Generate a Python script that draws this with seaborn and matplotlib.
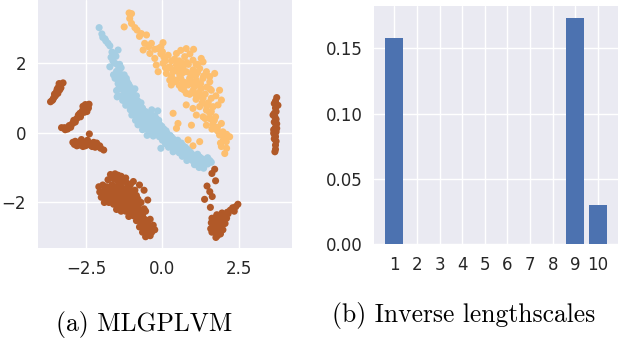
import numpy as np
import pandas as pd
import matplotlib
matplotlib.use("Agg")
import matplotlib.pyplot as plt
import seaborn as sns

# ---------------- data ----------------
brown_x = [-3.38, -3.33, -3.40, -3.36, -3.45, -3.42, -3.50, -3.55, -3.66, -3.32, -3.47, -3.58, -3.25,
           -3.44, -3.36, -3.53, -3.60,
           -2.40, -2.45, -2.52, -2.48, -2.58, -2.62, -2.55, -2.70, -2.68, -2.80, -2.85, -2.95, -3.00, -3.10,
           -3.20, -3.30, -2.90, -2.42, -2.50, -2.60, -2.75,
           -2.44, -2.56, -2.64, -2.75, -2.92, -3.05, -3.18, -2.47,
           -2.93, -2.85, -2.78, -2.70, -2.62, -2.55, -2.48, -2.40, -2.32, -2.25, -2.18, -2.10, -2.02, -1.92,
           -2.39, -2.80, -2.60, -2.30, -2.45, -2.65,
           -2.88, -2.74, -2.52, -2.36, -2.20, -2.05, -2.15,
           -1.70, -1.55, -1.45, -1.35, -1.78, -1.60, -1.48, -1.30, -1.15, -1.05, -0.75, -2.08, -1.95, -1.82,
           -1.65, -1.50, -1.35, -1.20, -1.05, -0.90, -0.60, -2.05, -1.90, -1.75, -1.60, -1.45, -1.30, -1.15,
           -1.00, -0.85, -2.00, -1.85, -1.70, -1.55, -1.40, -1.25, -1.10, -0.95, -0.48, -1.90, -1.60, -1.45,
           -1.30, -1.15, -1.00, -0.85, -0.70, -1.50, -1.35, -1.20, -1.05, -0.90, -0.75, -0.60, -1.10, -0.95,
           -0.80, -0.65, -0.85, -0.70, -0.55, -0.40, -0.75, -0.60, -0.45, -0.30, -0.65, -0.50, -0.35, -0.25,
           -0.55, -0.40, -1.75, -1.40, -1.20, -0.95, -0.80,
           -1.62, -1.40, -1.25, -1.88, -1.72, -1.55, -1.40, -1.25, -1.10, -0.95, -1.95, -1.80, -1.65, -1.50,
           -1.35, -1.20, -1.05, -0.90, -1.75, -1.50, -1.35, -1.20, -1.05, -0.90, -1.40, -1.25, -1.10, -0.95,
           -0.80, -1.00, -0.85, -0.70, -0.55, -0.78, -0.62, -0.48, -0.65, -0.52, -0.38, -0.45,
           1.71, 1.62, 1.74, 1.46, 1.55, 1.63, 1.38, 1.57,
           2.47, 2.40, 2.30, 2.22, 2.35, 2.12, 2.05, 1.95, 1.85, 1.75, 1.62, 2.10, 1.98, 1.88, 1.72, 1.60,
           2.05, 1.92, 1.80, 1.65, 1.58, 1.98, 1.85, 1.72, 1.80, 1.90, 1.70, 2.00, 1.68, 1.78,
           1.68, 1.78, 1.92, 2.02, 1.68, 1.85, 1.98, 1.62, 1.76, 1.90, 2.15, 2.30, 1.82, 1.75,
           3.74, 3.70, 3.66, 3.78, 3.62, 3.68, 3.72, 3.66, 3.74, 3.70, 3.64, 3.72, 3.68, 3.66, 3.72, 3.70,
           3.70, 3.68, 3.70, 3.72, 3.66, 3.74, 3.64, 3.70]
brown_y = [1.40, 1.35, 1.30, 1.22, 1.20, 1.12, 1.05, 1.00, 0.88, 1.28, 1.15, 0.95, 1.42,
           1.25, 1.38, 1.10, 0.92,
           0.81, 0.75, 0.80, 0.68, 0.70, 0.62, 0.58, 0.55, 0.45, 0.40, 0.30, 0.25, 0.15, 0.10,
           0.14, 0.14, 0.35, 0.70, 0.65, 0.75, 0.50,
           0.78, 0.66, 0.56, 0.45, 0.28, 0.20, 0.08, 0.60,
           -0.28, -0.25, -0.32, -0.28, -0.32, -0.28, -0.35, -0.30, -0.32, -0.28, -0.35, -0.40, -0.45, -0.50,
           -0.04, -0.38, -0.40, -0.40, -0.22, -0.20,
           -0.34, -0.36, -0.38, -0.36, -0.42, -0.38, -0.30,
           -1.20, -1.18, -1.22, -1.25, -1.35, -1.32, -1.38, -1.40, -1.45, -1.50, -1.50, -1.55, -1.50, -1.55,
           -1.50, -1.55, -1.55, -1.60, -1.65, -1.65, -1.65, -1.70, -1.68, -1.72, -1.68, -1.72, -1.75, -1.78,
           -1.82, -1.80, -1.85, -1.88, -1.85, -1.90, -1.92, -1.95, -1.95, -1.98, -1.93, -2.00, -2.05, -2.05,
           -2.10, -2.12, -2.10, -2.05, -2.00, -2.20, -2.25, -2.25, -2.25, -2.22, -2.20, -2.18, -2.40, -2.38,
           -2.35, -2.35, -2.52, -2.55, -2.50, -2.48, -2.70, -2.72, -2.68, -2.65, -2.85, -2.88, -2.85, -2.78,
           -2.98, -2.95, -2.00, -1.45, -1.30, -1.40, -1.90,
           -1.25, -1.30, -1.35, -1.62, -1.60, -1.62, -1.65, -1.68, -1.70, -1.72, -1.78, -1.80, -1.78, -1.82,
           -1.85, -1.88, -1.88, -1.90, -1.95, -1.98, -2.00, -2.02, -2.02, -2.00, -2.15, -2.18, -2.18, -2.15,
           -2.12, -2.30, -2.30, -2.28, -2.25, -2.45, -2.45, -2.58, -2.62, -2.78, -2.75, -2.92,
           -1.05, -1.17, -1.38, -1.53, -1.69, -1.83, -1.91, -2.14,
           -2.05, -2.12, -2.15, -2.22, -2.25, -2.28, -2.35, -2.30, -2.38, -2.42, -2.45, -2.45, -2.48, -2.52,
           -2.55, -2.58, -2.60, -2.65, -2.68, -2.70, -2.75, -2.78, -2.82, -2.85, -2.95, -2.90, -2.75, -2.50,
           -2.62, -2.35,
           -2.48, -2.48, -2.42, -2.40, -2.62, -2.60, -2.58, -2.85, -2.78, -2.72, -2.32, -2.20, -2.90, -3.00,
           1.00, 0.90, 0.83, 0.78, 0.50, 0.45, 0.38, 0.30, 0.25, 0.15, 0.08, 0.02, -0.08, -0.18, -0.25, -0.36,
           -0.48, -0.55, 0.70, 0.60, 0.55, 0.12, -0.02, -0.12]

orange_x = [-1.09, -1.01, -1.07, -1.01, -1.25, -0.83, -0.69, -0.52, -0.58, -0.36, 0.02, -0.14, -0.63,
            -0.41, -0.25, 0.00, 0.19, 0.46, 0.78, 1.02, 0.73, 1.00, 1.27, 1.33, -0.20, 0.02, 0.24, 0.46,
            0.68, -0.14, 0.13, 0.35, 0.57, 0.78, 1.00, 1.22, 1.44, 1.71, 0.24, 0.46, 0.68, 0.89, 1.11,
            1.33, 1.55, 0.29, 0.62, 0.84, 1.05, 1.27, 1.60, 1.87, 0.78, 1.11, 1.33, 1.60, 1.93, 1.82,
            0.78, 1.00, 1.22, 1.44, 1.66, 1.11, 1.33, 1.55, 1.74, 1.93, 1.44, 1.71, 1.98, 2.20, 1.87,
            2.09, 1.93, 2.04, 0.35, 0.51, 0.95, 0.46, 0.84, 1.00, 1.22,
            0.50, 0.60, 0.30, 0.90, 1.10, 0.70, 1.00, 1.20, 1.40, 1.50, 1.30, 1.60, 1.40, 1.65, 1.80,
            2.00, 0.10, 0.40, 0.62, 0.85, 1.15, 0.95, -0.05, 0.55, 1.75, 1.55, 2.10, 0.20, 0.88, 1.25,
            0.05, 0.30, 0.55, 0.80, 1.10, 0.10, 0.45, 0.65, 0.92, 1.15, 1.35, 1.55, 0.38, 0.55, 0.78,
            1.00, 1.20, 1.45, 0.70, 0.90, 1.10, 1.30, 1.45, 1.55, 1.70, 1.80, 1.95, 2.10, 1.90, 1.62,
            -0.45, -0.25, -0.05, 0.60, 0.90, -0.75, -0.90]
orange_y = [3.42, 3.40, 3.26, 3.12, 3.02, 2.93, 2.83, 2.79, 2.55, 2.55, 2.57, 2.40, 2.36,
            2.26, 2.12, 2.31, 2.21, 2.26, 2.40, 2.38, 2.17, 2.07, 2.12, 2.02, 1.93, 1.98, 1.88, 1.93,
            1.88, 1.74, 1.69, 1.74, 1.64, 1.74, 1.79, 1.83, 1.74, 1.69, 1.50, 1.50, 1.45, 1.55, 1.50,
            1.55, 1.45, 1.36, 1.26, 1.36, 1.31, 1.26, 1.21, 1.21, 1.12, 1.07, 0.98, 0.98, 0.93, 0.79,
            0.79, 0.69, 0.74, 0.64, 0.74, 0.50, 0.45, 0.40, 0.45, 0.26, 0.21, 0.12, 0.02, -0.12, -0.07,
            -0.26, -0.40, -0.60, 0.55, 0.26, 0.21, 0.12, -0.21, -0.38, -0.26,
            1.75, 1.55, 1.60, 1.45, 1.65, 1.35, 1.20, 1.15, 1.10, 0.85, 0.85, 0.60, 0.40, 0.25, 0.05,
            -0.20, 2.05, 2.10, 2.00, 1.95, 1.95, 1.62, 2.25, 1.85, 1.05, 1.25, -0.45, 1.85, 1.10, 1.40,
            2.15, 2.05, 2.05, 2.00, 1.95, 1.85, 1.82, 1.70, 1.68, 1.72, 1.62, 1.60, 1.45, 1.35, 1.42,
            1.40, 1.35, 1.30, 1.22, 1.10, 0.95, 1.00, 0.75, 0.55, 0.35, 0.15, -0.05, -0.05, -0.30, 0.10,
            2.45, 2.38, 2.45, 2.35, 2.25, 2.75, 3.00]

blue_x = [-2.07, -1.98, -1.95, -1.78, -1.72, -1.45, -1.68, -1.62, -1.55, -1.72, -1.45, -1.35, -1.50,
          -1.40, -1.25, -1.55, -1.30, -1.15, -1.45, -1.20, -1.05, -1.35, -1.50, -1.10, -0.90, -1.25,
          -1.40, -1.48, -1.00, -1.15, -0.85, -1.30, -0.95, -1.10, -0.80, -0.70, -1.20, -1.00, -0.85,
          -0.65, -1.05, -0.90, -0.75, -0.55, -0.35, -0.15, -1.00, -0.80, -0.62, -0.45, -0.25, -0.88,
          -0.70, -0.50, -0.30, -0.12, -0.80, -0.60, -0.40, -0.20, -0.02, -0.65, -0.45, -0.25, -0.05,
          0.12, -0.50, -0.30, -0.10, 0.08, 0.25, 0.00, 0.18, 0.35, 0.50, 0.10, 0.28, 0.45, 0.62, -0.05,
          0.20, 0.40, 0.58, 0.75, 0.35, 0.55, 0.72, 0.90, 0.65, 0.82, 1.00, 1.15, 0.80, 0.98, 1.15,
          1.30, 1.48, 1.05, 1.25, 1.40, 1.55, 1.35, 1.20, 1.60,
          -1.85, -1.58, -1.38, -1.42, -0.72, -0.55, 0.30, 0.65, 1.08,
          -1.88, -1.65, -1.52, -1.40, -1.60, -1.35, -1.18, -1.40, -1.28, -1.10, -1.22, -1.05, -0.95,
          -1.15, -1.05, -0.90, -0.75, -0.95, -0.70, -0.55, -0.40, -0.78, -0.60, -0.40, -0.20, -0.70,
          -0.50, -0.30, -0.10, -0.55, -0.35, -0.15, 0.05, -0.40, -0.20, 0.00, 0.15, 0.10, 0.30, 0.42,
          0.20, 0.55, 0.68, 0.48, 0.65, 0.82, 0.78, 0.95, 1.08, 0.90, 1.22, 1.38, 1.10, 1.48, 1.28]
blue_y = [3.00, 2.82, 2.72, 2.55, 2.48, 2.36, 2.15, 2.05, 1.98, 1.88, 1.92, 1.85, 1.75,
          1.70, 1.65, 1.55, 1.50, 1.45, 1.40, 1.35, 1.30, 1.25, 1.20, 1.20, 1.25, 1.10,
          1.05, 1.02, 1.05, 0.98, 1.05, 0.92, 0.90, 0.85, 0.90, 0.85, 0.78, 0.75, 0.72,
          0.70, 0.65, 0.60, 0.62, 0.60, 0.65, 0.62, 0.50, 0.48, 0.50, 0.45, 0.48, 0.35,
          0.35, 0.32, 0.30, 0.35, 0.22, 0.20, 0.18, 0.15, 0.18, 0.08, 0.05, 0.02, 0.03,
          0.05, -0.08, -0.10, -0.12, -0.10, -0.08, -0.22, -0.20, -0.18, -0.22, -0.32, -0.30, -0.33, -0.30, -0.45,
          -0.42, -0.45, -0.45, -0.42, -0.55, -0.58, -0.55, -0.55, -0.68, -0.68, -0.65, -0.62, -0.80, -0.80, -0.78,
          -0.75, -0.72, -0.92, -0.92, -0.85, -0.80, -1.02, -1.00, -0.85,
          2.62, 2.25, 1.60, 1.28, 0.55, 0.52, -0.40, -0.48, -0.72,
          2.68, 2.30, 2.18, 1.95, 1.65, 1.58, 1.55, 1.48, 1.40, 1.38, 1.22, 1.15, 1.10,
          1.05, 0.95, 0.80, 0.75, 0.68, 0.55, 0.52, 0.55, 0.42, 0.40, 0.38, 0.40, 0.28,
          0.25, 0.22, 0.25, 0.12, 0.10, 0.08, 0.10, -0.02, -0.05, -0.05, -0.02, -0.15, -0.13, -0.25,
          -0.27, -0.35, -0.38, -0.50, -0.50, -0.48, -0.60, -0.60, -0.68, -0.72, -0.70, -0.80, -0.85, -0.90, -0.85]

bar_labels = ["1", "2", "3", "4", "5", "6", "7", "8", "9", "10"]
bar_values = [0.158, 0.0004, 0.0004, 0.0004, 0.0004, 0.0004, 0.0004, 0.0004, 0.173, 0.030]

caption_a = "(a) MLGPLVM"
caption_b = "(b) Inverse lengthscales"

# ---------------- plot ----------------
sns.set_theme(style="darkgrid")
plt.rcParams["font.family"] = ["DejaVu Sans"]

fig = plt.figure(figsize=(6.18, 3.38), dpi=100)
ax1 = fig.add_axes([38 / 618, 1 - 248.3 / 338, 254 / 618, 248.3 / 338])
ax2 = fig.add_axes([374.3 / 618, 1 - 244.4 / 338, 243.7 / 618, 238 / 338])

scatter_df = pd.concat([
    pd.DataFrame({"x": brown_x, "y": brown_y, "group": "c"}),
    pd.DataFrame({"x": orange_x, "y": orange_y, "group": "b"}),
    pd.DataFrame({"x": blue_x, "y": blue_y, "group": "a"}),
], ignore_index=True)
palette = {"a": "#a6cee3", "b": "#fdbf6f", "c": "#b15928"}
sns.scatterplot(data=scatter_df, x="x", y="y", hue="group", palette=palette,
                s=26, linewidth=0, legend=False, ax=ax1)
ax1.set_xlim(-4.07, 4.24)
ax1.set_ylim(-3.31, 3.79)
ax1.set_xticks([-2.5, 0.0, 2.5])
ax1.set_yticks([-2, 0, 2])
ax1.set_xlabel("")
ax1.set_ylabel("")

bar_df = pd.DataFrame({"dim": bar_labels, "value": bar_values})
sns.barplot(data=bar_df, x="dim", y="value", color="#4c72b0", saturation=1,
            width=0.8, linewidth=0, ax=ax2)
ax2.set_xlim(-0.89, 9.89)
ax2.set_ylim(0, 0.1821)
ax2.set_yticks([0.0, 0.05, 0.10, 0.15])
ax2.yaxis.set_major_formatter(matplotlib.ticker.FormatStrFormatter("%.2f"))
ax2.xaxis.grid(True)
ax2.set_axisbelow(True)
ax2.set_xlabel("")
ax2.set_ylabel("")

for ax in (ax1, ax2):
    ax.tick_params(axis="both", labelsize=12, pad=8.5, length=0, colors="#262626")
    for sp in ax.spines.values():
        sp.set_visible(False)

fig.text(56 / 618, 1 - 331 / 338, caption_a, fontfamily="cmr10", fontsize=18.4,
         ha="left", va="baseline", color="black")
fig.text(332 / 618, 1 - 322 / 338, caption_b, fontfamily="cmr10", fontsize=18.4,
         ha="left", va="baseline", color="black")

fig.savefig("out.png", dpi=100)
